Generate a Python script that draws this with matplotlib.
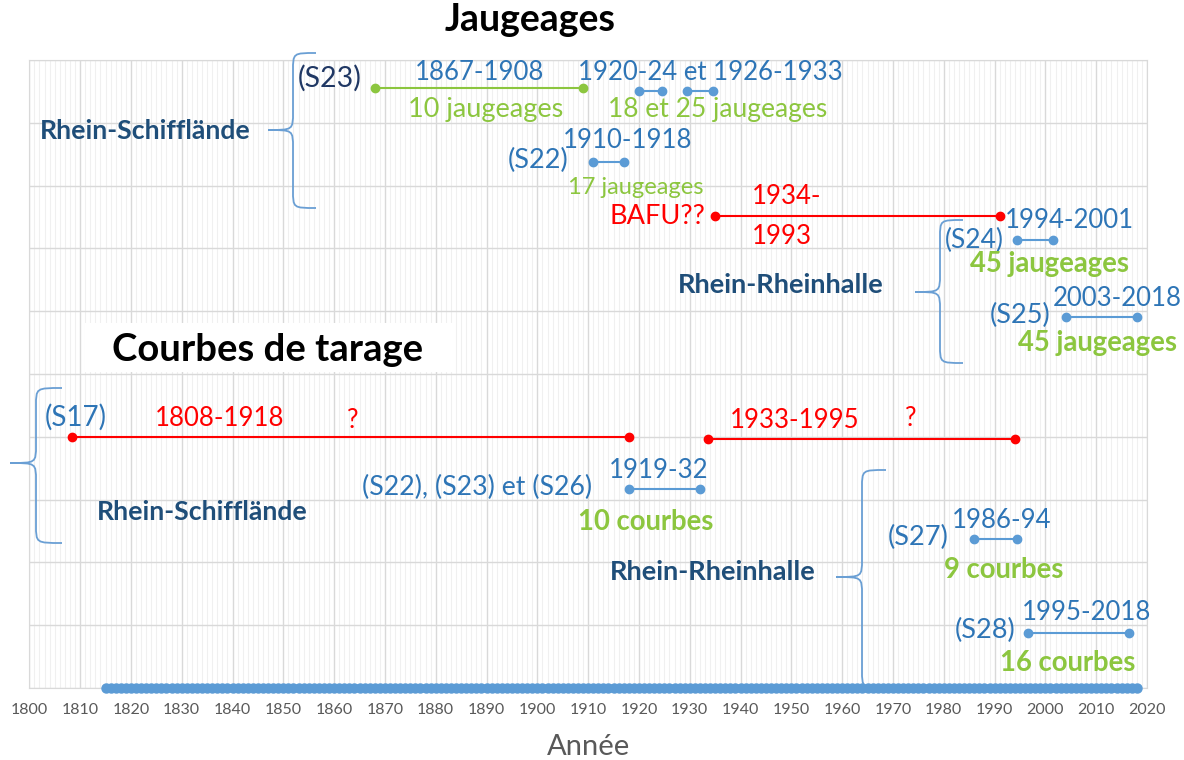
import numpy as np
import matplotlib
matplotlib.use('Agg')
import matplotlib.pyplot as plt
from matplotlib.path import Path
from matplotlib.patches import PathPatch, Rectangle

# ---------------- data ----------------
axis_years = np.arange(1815, 2019)          # yearly record along the axis
tick_years = list(range(1800, 2021, 10))

# jaugeages (gaugings) periods
green_start = [1868]
green_end = [1909]
green_level = [9.55]

blue_start = [1920, 1929.5, 1911, 1994.5, 2004, 1918, 1986, 1996.5]
blue_end = [1924.5, 1934.5, 1917, 2001.5, 2018, 1932, 1994.5, 2016.5]
blue_level = [9.5, 9.5, 8.38, 7.14, 5.9, 3.17, 2.37, 0.88]

red_start = [1935, 1808.5, 1933.5]
red_end = [1991, 1918, 1994]
red_level = [7.52, 4.0, 3.97]

titles = ['Jaugeages', 'Courbes de tarage']
station_names = ['Rhein-Schifflände', 'Rhein-Rheinhalle']
x_label = 'Année'
period_labels = ['1867-1908', '1920-24 et 1926-1933', '1910-1918', '1994-2001',
                 '2003-2018', '1919-32', '1986-94', '1995-2018']
gauge_ids = ['(S23)', '(S22)', '(S24)', '(S25)', '(S17)',
             '(S22), (S23) et (S26)', '(S27)', '(S28)']
red_labels = ['BAFU??', '1934-', '1993', '1808-1918', '?', '1933-1995', '?']
count_labels = ['10 jaugeages', '18 et 25 jaugeages', '17 jaugeages', '45 jaugeages',
                '45 jaugeages', '10 courbes', '9 courbes', '16 courbes']

# ---------------- style ----------------
FONT = 'Lato'
plt.rcParams['font.family'] = [FONT, 'DejaVu Sans']
BLUE_T = '#2E75B6'
BLUE_L = '#5B9BD5'
NAVY = '#1F4E79'
NAVY2 = '#203864'
GREEN = '#8CC63F'
RED = '#FF0000'
GRID = '#D9D9D9'

W, H = 1184, 760
fig = plt.figure(figsize=(W / 100, H / 100), dpi=100)
X0, X1 = 29.3, 1147.0
Y0, YT = 688.0, 60.0
ax = fig.add_axes([X0 / W, 1 - Y0 / H, (X1 - X0) / W, (Y0 - YT) / H])
ax.set_xlim(1800, 2020)
ax.set_ylim(0, 10)
SX = (X1 - X0) / 220.0
SY = (Y0 - YT) / 10.0


def P(xp, yp):
    return 1800 + (xp - X0) / SX, (Y0 - yp) / SY


# grid
ax.set_xticks(tick_years)
ax.set_xticks(range(1800, 2021), minor=True)
ax.set_yticks(range(0, 11))
ax.grid(which='major', axis='x', color=GRID, lw=1.0)
ax.grid(which='minor', axis='x', color='#F0F0F0', lw=0.8)
ax.grid(which='major', axis='y', color=GRID, lw=1.0)
ax.set_axisbelow(True)
for s in ax.spines.values():
    s.set_color(GRID)
ax.tick_params(axis='both', which='both', length=0)
ax.tick_params(axis='x', labelsize=11.5, labelcolor='#595959', pad=11)
ax.set_yticklabels([])
for lab in ax.get_xticklabels():
    lab.set_fontfamily(FONT)
ax.set_xlabel(x_label, fontsize=21, color='#595959', labelpad=12, family=FONT)

# white box behind lower title
bx0, by0 = P(85, 372)
bx1, by1 = P(453, 323)
ax.add_patch(Rectangle((bx0, by0), bx1 - bx0, by1 - by0, facecolor='white',
                       edgecolor='none', zorder=1.5))

# segments
for s, e, lv in zip(green_start, green_end, green_level):
    ax.plot([s, e], [lv, lv], color=GREEN, lw=1.5, marker='o', ms=6, zorder=3)
for s, e, lv in zip(blue_start, blue_end, blue_level):
    ax.plot([s, e], [lv, lv], color=BLUE_L, lw=1.5, marker='o', ms=6, zorder=3)
for s, e, lv in zip(red_start, red_end, red_level):
    ax.plot([s, e], [lv, lv], color=RED, lw=1.5, marker='o', ms=6, zorder=3)

# axis record dots
ax.plot(axis_years, np.zeros(len(axis_years)), 'o', color=BLUE_L, ms=6.5,
        clip_on=False, zorder=4)


# braces
def brace(xs, yt, yb, ym, xe, xt, r=18):
    pts = [P(xe, yt), P(xs, yt), P(xs, yt), P(xs, yt + r),
           P(xs, ym - r), P(xs, ym), P(xs, ym), P(xt, ym),
           P(xs, ym), P(xs, ym), P(xs, ym + r),
           P(xs, yb - r), P(xs, yb), P(xs, yb), P(xe, yb)]
    codes = [Path.MOVETO, Path.CURVE4, Path.CURVE4, Path.CURVE4,
             Path.LINETO, Path.CURVE4, Path.CURVE4, Path.CURVE4,
             Path.CURVE4, Path.CURVE4, Path.CURVE4,
             Path.LINETO, Path.CURVE4, Path.CURVE4, Path.CURVE4]
    ax.add_patch(PathPatch(Path(pts, codes), facecolor='none', edgecolor='#6A9FD4',
                           lw=1.3, clip_on=False, zorder=3))


brace(293, 53, 208, 130, 316, 268)
brace(940, 220, 363, 292, 963, 915)
brace(36, 388, 543, 463, 62, 10)
brace(862, 470, 688, 577, 886, 836)


def T(s, xp, yp, color, size, weight='normal', ha='left'):
    x, y = P(xp, yp)
    ax.text(x, y, s, color=color, fontsize=size, fontweight=weight, ha=ha,
            va='center', family=FONT, clip_on=False, zorder=5)


# titles
T(titles[0], 530, 20, 'black', 27, 'bold', ha='center')
T(titles[1], 112, 350, 'black', 27.5, 'bold')

# station names
T(station_names[0], 40, 131, NAVY, 19.2, 'bold')
T(station_names[0], 97, 512, NAVY, 19.2, 'bold')
T(station_names[1], 678, 285, NAVY, 19.5, 'bold')
T(station_names[1], 610, 572, NAVY, 19.5, 'bold')

LS = 18.5
period_pos = [(415, 73), (578, 73), (563, 140), (1005, 220), (1053, 298),
              (609, 470), (952, 521), (1022, 613)]
for s, (xp, yp) in zip(period_labels, period_pos):
    T(s, xp, yp, BLUE_T, LS)

gauge_pos = [(298, 78), (508, 160), (945, 240), (990, 315), (45, 417),
             (362, 487), (888, 537), (955, 630)]
gauge_size = [20.5, 19.5, 19, 19.5, 20, 19.2, 19.5, 19.5]
for i, (s, (xp, yp)) in enumerate(zip(gauge_ids, gauge_pos)):
    T(s, xp, yp, NAVY2 if i == 0 else BLUE_T, gauge_size[i])

red_pos = [(609, 217), (752, 197), (752, 237), (155, 418), (347, 420),
           (730, 421), (905, 419)]
for i, (s, (xp, yp)) in enumerate(zip(red_labels, red_pos)):
    T(s, xp, yp, RED, 19.5 if i == 0 else LS)

count_pos = [(408, 110), (608, 110), (568, 187), (970, 264), (1018, 343),
             (578, 522), (944, 570), (1000, 663)]
count_size = [19.5, 19, 17, 19.8, 19.8, 19.8, 19.8, 19.8]
count_weight = ['normal', 'normal', 'normal', 'bold', 'bold', 'bold', 'bold', 'bold']
for s, (xp, yp), sz, wt in zip(count_labels, count_pos, count_size, count_weight):
    T(s, xp, yp, GREEN, sz, wt)

fig.savefig('out.png', dpi=100)
